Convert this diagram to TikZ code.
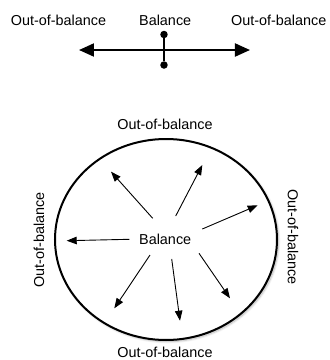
\documentclass[tikz,border=0pt]{standalone}
\usepackage{fontspec}
\setmainfont{Liberation Sans}
\usetikzlibrary{arrows.meta, shapes.geometric, shadows.blur}

\begin{document}
\begin{tikzpicture}[
    x=1pt, y=-1pt,
    tag/.style={
        font=\fontsize{14.4}{16}\selectfont,
        inner sep=0pt
    },
    dot/.style={
        circle,
        fill=black,
        inner sep=0pt,
        minimum size=7.5pt
    },
    rim/.style={
        ellipse,
        draw=black,
        fill=white,
        line width=2pt,
        minimum width=222pt,
        minimum height=201pt,
        inner sep=0pt,
        blur shadow={shadow xshift=1.5pt, shadow yshift=-1.5pt, shadow blur steps=8, shadow opacity=30}
    },
    beam/.style={
        {Triangle[length=15pt, width=13pt]}-{Triangle[length=15pt, width=13pt]},
        line width=2pt
    },
    spoke/.style={
        -{Triangle[length=10pt, width=7.5pt]},
        line width=0.9pt
    }
]
\useasboundingbox (0,0) rectangle (330,360);

% Nodes
\node (leftout) [tag, anchor=base] at (58.5,25) {Out-of-balance};
\node (midbal) [tag, anchor=base] at (165.2,25) {Balance};
\node (rightout) [tag, anchor=base] at (278.7,25) {Out-of-balance};
\node (updot) [dot] at (164,34.5) {};
\node (downdot) [dot] at (164,65) {};
\coordinate (lefttip) at (79,50);
\coordinate (righttip) at (250,50);

\node (circ) [rim] at (166,239.5) {};
\node (center) [tag] at (165.2,239) {Balance};
\node (topout) [tag] at (165,124) {Out-of-balance};
\node (botout) [tag] at (165,352) {Out-of-balance};
\node (westout) [tag, rotate=90] at (39,240) {Out-of-balance};
\node (eastout) [tag, rotate=-90] at (293,237) {Out-of-balance};

% Paths
\draw [beam] (lefttip) -- (righttip);
\draw [line width=1.3pt] (updot) -- (downdot);

\foreach \sx/\sy/\ex/\ey [count=\i] in {152.7/218.3/111/171.7, 175.7/216/202.3/165,
    202.3/229/257.7/205.3, 129.3/239.3/66.7/240.7, 150/255/114.3/308.3,
    171.7/259/180/320.7, 199/253.3/230/298.3} {
    \coordinate (from\i) at (\sx,\sy);
    \coordinate (to\i) at (\ex,\ey);
    \draw [spoke] (from\i) -- (to\i);
}

\end{tikzpicture}
\end{document}
